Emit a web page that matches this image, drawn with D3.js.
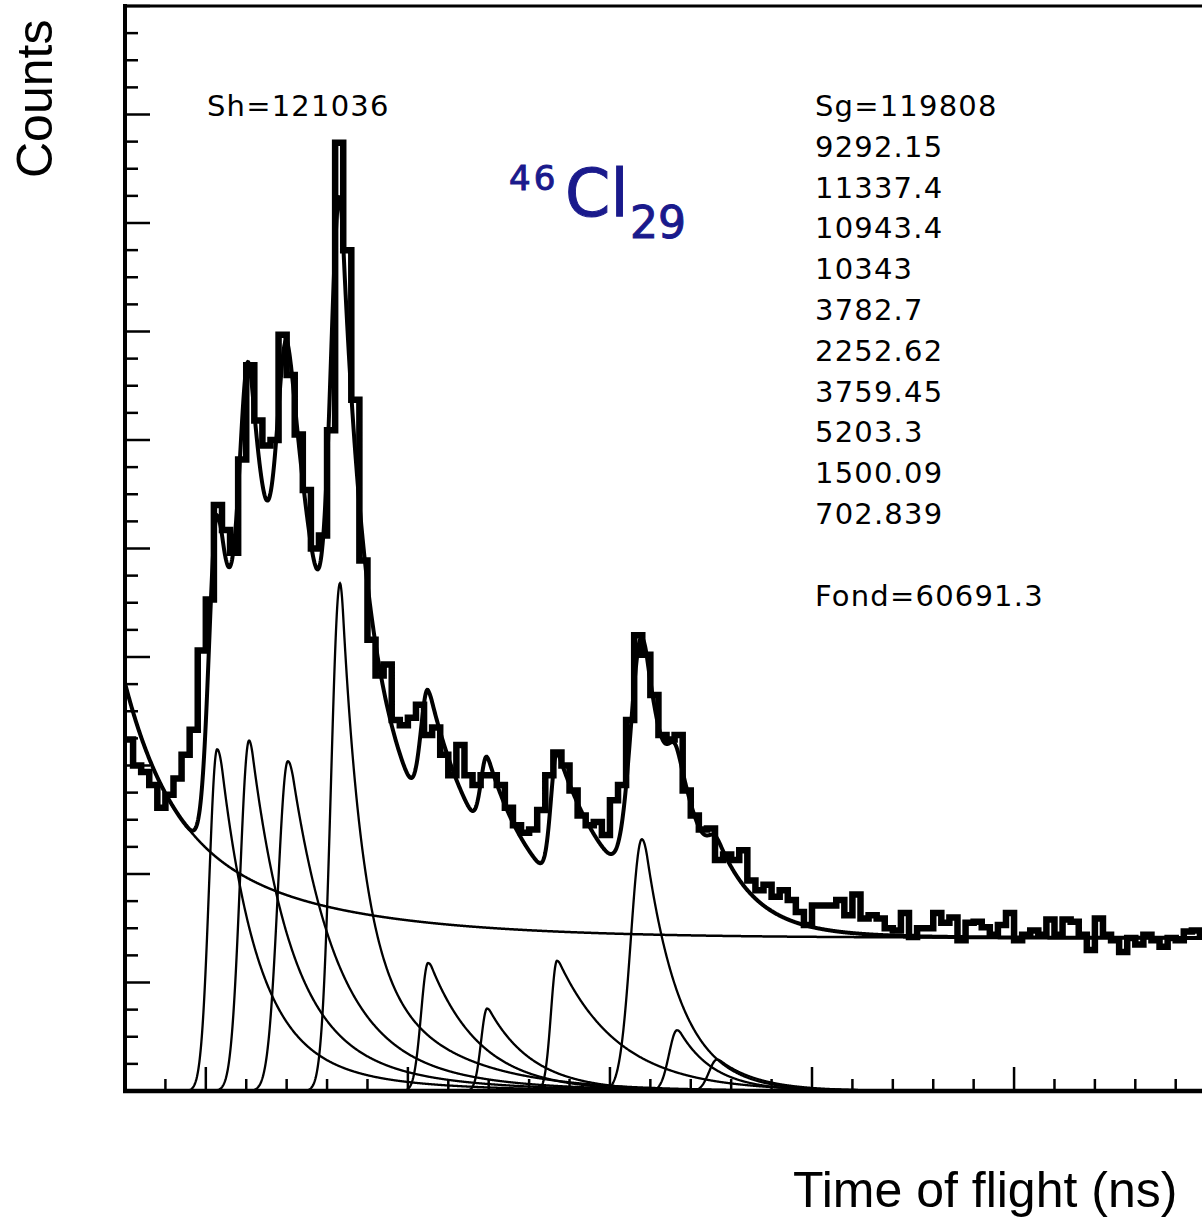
<!DOCTYPE html>
<html>
<head>
<meta charset="utf-8">
<script src="https://cdn.jsdelivr.net/npm/d3@7/dist/d3.min.js"></script>
<style>
  html, body { margin: 0; padding: 0; background: #ffffff; }
  svg { display: block; }
</style>
</head>
<body>
<svg id="chart" width="1202" height="1220"></svg>
<script>
// ---------------- data ----------------
// histogram: bins of 2 units starting at x = 180
const binStart = 180;
const binWidth = 2;
const counts = [
  324,300,294,282,261,273,288,310,333,406,
  453,540,517,496,582,669,618,595,600,697,
  660,605,554,500,512,609,874,775,637,489,
  416,383,393,342,337,344,356,328,335,310,
  291,319,291,282,291,291,282,261,245,238,
  241,259,291,312,300,277,254,245,248,236,
  268,282,342,420,402,365,328,324,328,277,
  254,241,242,213,218,213,222,194,185,190,
  179,185,176,165,153,171,171,171,176,162,
  181,159,162,159,150,148,164,142,150,150,
  164,155,160,139,155,156,151,144,153,164,
  139,144,148,144,158,144,158,156,144,130,
  159,144,139,128,141,135,144,139,133,141,
  139,147,148,144
];

// fitted peak components
const peakCentre    = [202.8, 210.7, 220.3, 233.2, 255.0, 269.6, 286.9, 307.9, 316.6, 326.5];
const peakHeight    = [315, 323, 304, 468, 118, 76, 120, 232, 56, 29];
const peakRise      = [1.98, 2.23, 2.47, 2.23, 1.73, 1.48, 1.48, 2.72, 1.98, 1.98];
const peakTop       = [3.46, 2.97, 3.96, 1.98, 3.46, 2.97, 3.46, 3.46, 2.97, 2.97];
const peakDecay     = [8.66, 9.4, 10.6, 4.95, 12.4, 11.1, 15.0, 8.66, 8.66, 9.9];
const peakSlowFrac  = [0.15, 0.2, 0.2, 0.3, 0, 0, 0, 0, 0, 0];
const peakSlowDecay = [24.7, 24.7, 24.7, 19.8, 24.7, 24.7, 24.7, 24.7, 24.7, 24.7];

// background ("Fond") parameters
const bgLevel = 141;
const bgFastAmp = 129, bgFastDecay = 11.1;
const bgSlowAmp = 106, bgSlowDecay = 37.1;
const bgRef = 180;

// text
const shText = "Sh=121036";
const statLines = ["Sg=119808","9292.15","11337.4","10943.4","10343","3782.7","2252.62","3759.45","5203.3","1500.09","702.839","","Fond=60691.3"];
const xTitle = "Time of flight (ns)";
const yTitle = "Counts";

// axis ticks
const xMinorTicks = d3.range(190, 447, 10);
const xMajorTicks = [200, 250, 300, 350, 400];
const yMinorTicks = d3.range(25, 1001, 25);

// ---------------- scales ----------------
const svg = d3.select("#chart");
const x = d3.scaleLinear().domain([180, 447]).range([125, 1204]);
const y = d3.scaleLinear().domain([0, 1000]).range([1091, 6]);

// ---------------- model functions ----------------
function tailPart(t, s, tau) {
  const t0 = s * s / tau;
  if (t < t0) return Math.exp(-t * t / (2 * s * s));
  return Math.exp(s * s / (2 * tau * tau) - t / tau);
}
function peakValue(k, xv) {
  const t = xv - peakCentre[k];
  if (t < 0) return peakHeight[k] * Math.exp(-t * t / (2 * peakRise[k] * peakRise[k]));
  const w = peakSlowFrac[k];
  return peakHeight[k] * ((1 - w) * tailPart(t, peakTop[k], peakDecay[k]) + w * tailPart(t, peakTop[k], peakSlowDecay[k]));
}
function bgValue(xv) {
  const d = xv - bgRef;
  return bgLevel + bgFastAmp * Math.exp(-d / bgFastDecay) + bgSlowAmp * Math.exp(-d / bgSlowDecay);
}

const xs = d3.range(180, 447.001, 0.1);

// clip
svg.append("defs").append("clipPath").attr("id", "plotclip")
  .append("rect").attr("x", x(180)).attr("y", y(1000)).attr("width", x(447) - x(180)).attr("height", y(0) - y(1000));

const plot = svg.append("g").attr("clip-path", "url(#plotclip)");
const line = d3.line().x(d => x(d[0])).y(d => y(d[1]));

// components
peakCentre.forEach((c, k) => {
  const pts = xs.filter(v => v >= c - 6 * peakRise[k]).map(v => [v, peakValue(k, v)]);
  plot.append("path").attr("d", line(pts)).attr("fill", "none")
    .attr("stroke", "#000").attr("stroke-width", 2.3);
});

// background
plot.append("path").attr("d", line(xs.map(v => [v, bgValue(v)])))
  .attr("fill", "none").attr("stroke", "#000").attr("stroke-width", 2.5);

// histogram
const histPts = [];
counts.forEach((c, i) => {
  histPts.push([binStart + i * binWidth, c]);
  histPts.push([binStart + (i + 1) * binWidth, c]);
});
plot.append("path").attr("d", line(histPts)).attr("fill", "none")
  .attr("stroke", "#000").attr("stroke-width", 6.5).attr("stroke-linejoin", "miter");

// total fit
const totalPts = xs.map(v => {
  let s = bgValue(v);
  for (let k = 0; k < peakCentre.length; k++) s += peakValue(k, v);
  return [v, s];
});
plot.append("path").attr("d", line(totalPts)).attr("fill", "none")
  .attr("stroke", "#000").attr("stroke-width", 4);

// ---------------- frame & ticks ----------------
const frame = svg.append("g");
frame.append("line").attr("x1", x(180)).attr("x2", x(180)).attr("y1", y(1000) - 2).attr("y2", y(0) + 2)
  .attr("stroke", "#000").attr("stroke-width", 4);
frame.append("line").attr("x1", x(180) - 2).attr("x2", 1210).attr("y1", y(0)).attr("y2", y(0))
  .attr("stroke", "#000").attr("stroke-width", 4.5);
frame.append("line").attr("x1", x(180) - 2).attr("x2", 1210).attr("y1", y(1000)).attr("y2", y(1000))
  .attr("stroke", "#000").attr("stroke-width", 3);

frame.selectAll(".ymin").data(yMinorTicks).enter().append("line")
  .attr("x1", x(180)).attr("x2", v => x(180) + (v % 100 === 0 ? 25 : 13))
  .attr("y1", v => y(v)).attr("y2", v => y(v))
  .attr("stroke", "#000").attr("stroke-width", 2.5);

frame.selectAll(".xmin").data(xMinorTicks).enter().append("line")
  .attr("x1", v => x(v)).attr("x2", v => x(v))
  .attr("y1", y(0)).attr("y2", v => y(0) - (xMajorTicks.includes(v) ? 24 : 12))
  .attr("stroke", "#000").attr("stroke-width", 2.5);

// ---------------- text ----------------
const txt = svg.append("g").attr("font-family", "'DejaVu Sans', sans-serif")
  .attr("font-size", 29).attr("letter-spacing", 1.2).attr("fill", "#000");
txt.append("text").attr("x", 207).attr("y", 116).text(shText);
statLines.forEach((s, i) => {
  if (s) txt.append("text").attr("x", 815).attr("y", 116 + i * 40.8).text(s);
});

// isotope label
const iso = svg.append("text").attr("fill", "#1a1a8c").attr("stroke", "#1a1a8c").attr("stroke-width", 1.0)
  .attr("font-family", "'DejaVu Sans', sans-serif");
iso.append("tspan").attr("x", 509).attr("y", 190).attr("font-size", 34).attr("letter-spacing", 3).text("46");
iso.append("tspan").attr("x", 565).attr("y", 216).attr("font-size", 65).text("Cl");
iso.append("tspan").attr("x", 630).attr("y", 238).attr("font-size", 44).text("29");

// axis titles
svg.append("text").attr("x", 793).attr("y", 1207)
  .attr("font-family", "'Liberation Sans', Arial, sans-serif").attr("font-size", 50)
  .attr("fill", "#000").text(xTitle);
svg.append("text").attr("transform", "translate(52,178) rotate(-90)")
  .attr("font-family", "'Liberation Sans', Arial, sans-serif").attr("font-size", 50)
  .attr("fill", "#000").text(yTitle);
</script>
</body>
</html>
